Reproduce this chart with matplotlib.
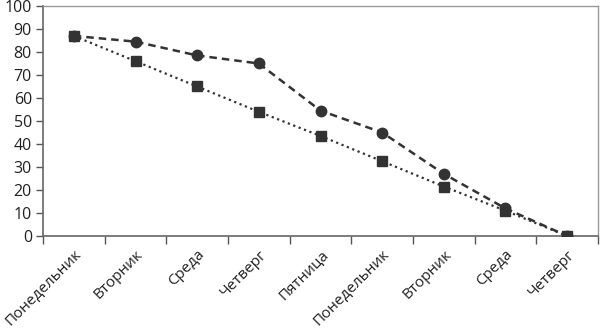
import matplotlib
matplotlib.use("Agg")
import matplotlib.pyplot as plt
import numpy as np

plt.rcParams['font.family'] = ['Open Sans', 'DejaVu Sans']

categories = ["Понедельник", "Вторник", "Среда", "Четверг", "Пятница",
              "Понедельник", "Вторник", "Среда", "Четверг"]
series_circle = [87, 84.5, 78.5, 75, 54.5, 45, 27, 12, 0]
series_square = [87, 76, 65, 54, 43.5, 32.5, 21.5, 11, 0]
yticks = [0, 10, 20, 30, 40, 50, 60, 70, 80, 90, 100]

fig = plt.figure(figsize=(6, 3.28), dpi=100)
ax = fig.add_axes([43/600, 1-236/328, 555/600, 230/328])

x = np.arange(len(categories))
col = '#333333'
ax.plot(x, series_square, linestyle=(0, (1, 1.6)), color=col, lw=1.6,
        marker='s', markersize=7, markerfacecolor=col, markeredgecolor=col, zorder=3)
ax.plot(x, series_circle, linestyle=(0, (3, 2)), color=col, lw=1.8,
        marker='o', markersize=7.5, markerfacecolor=col, markeredgecolor=col, zorder=4)

ax.set_xlim(-0.5, len(categories) - 0.5)
ax.set_ylim(0, 100)
ax.set_yticks(yticks)
ax.set_xticks(np.arange(-0.5, len(categories) + 0.5, 1))
ax.set_xticklabels([])
ax.set_xticks(x, minor=True)
ax.set_xticklabels(categories, minor=True, rotation=45, ha='right', va='top',
                   rotation_mode='anchor', fontsize=11, color='#222222')
ax.tick_params(axis='x', which='minor', length=0, pad=8)
ax.tick_params(axis='x', which='major', length=6, direction='out', color='#555555', width=1)
ax.tick_params(axis='y', length=5, direction='out', color='#555555', width=1,
               labelsize=11.5, labelcolor='#222222', pad=3)

for s in ['left', 'bottom']:
    ax.spines[s].set_color('#666666')
    ax.spines[s].set_linewidth(1.2)
for s in ['top', 'right']:
    ax.spines[s].set_color('#999999')
    ax.spines[s].set_linewidth(1.0)

fig.savefig('out.png', dpi=100)
